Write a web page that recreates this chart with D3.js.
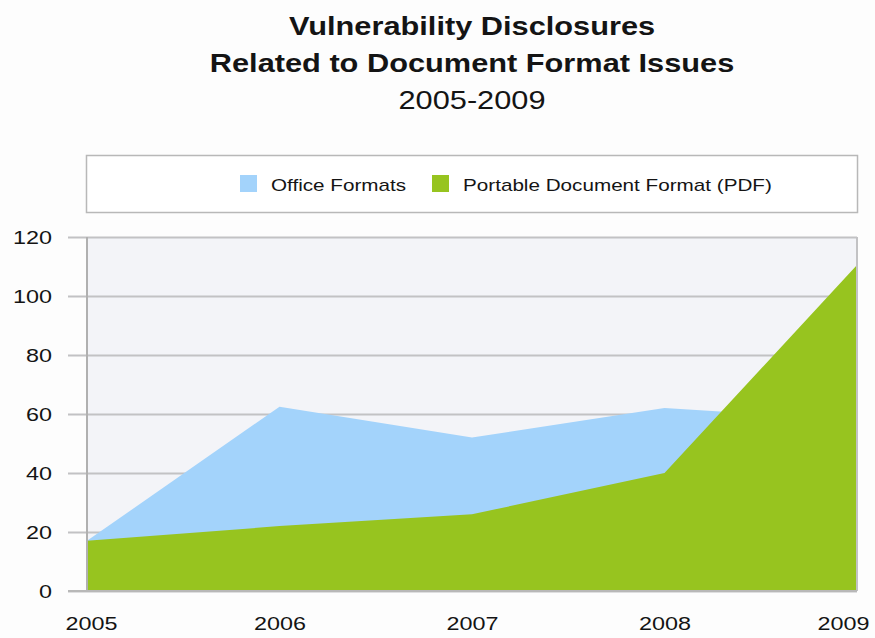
<!DOCTYPE html>
<html>
<head>
<meta charset="utf-8">
<script src="https://cdn.jsdelivr.net/npm/d3@7"></script>
<style>
  html, body { margin: 0; padding: 0; background: #fdfdfd; }
  svg { display: block; }
  text { font-family: "Liberation Sans", Arial, Helvetica, sans-serif; fill: #141414; }
</style>
</head>
<body>
<svg id="chart" width="875" height="638"></svg>
<script>
// Yearly vulnerability disclosure counts
const years = [2005, 2006, 2007, 2008, 2009];
const officeFormats = [17, 62.5, 52, 62, 58];
const pdfFormat = [17, 22, 26, 40, 110.5];
const yTicks = [0, 20, 40, 60, 80, 100, 120];
const seriesNames = ["Office Formats", "Portable Document Format (PDF)"];
const seriesColors = ["#a3d3fb", "#97c41f"];
const titleLines = ["Vulnerability Disclosures", "Related to Document Format Issues"];
const subtitle = "2005-2009";

const svg = d3.select("#chart");
const margin = { left: 87, right: 18, top: 237, bottom: 47 };
const W = 875, H = 638;
const STRETCH = 1.23; // wide lettering

// Turn x/y placement into a transform so the glyphs can be widened
function widen(sel) {
  sel.each(function () {
    const t = d3.select(this);
    const tx = +t.attr("x") || 0, ty = +t.attr("y") || 0;
    t.attr("x", null).attr("y", null)
      .attr("transform", `translate(${tx},${ty}) scale(${STRETCH},1)`);
  });
}

const x = d3.scaleLinear().domain(d3.extent(years)).range([margin.left, W - margin.right]);
const y = d3.scaleLinear().domain([0, 120]).range([H - margin.bottom, margin.top]);

// Titles
const cx = (x.range()[0] + x.range()[1]) / 2;
svg.append("text").attr("x", cx).attr("y", 35).attr("text-anchor", "middle")
  .attr("font-size", 25).attr("font-weight", "bold").text(titleLines[0]).call(widen);
svg.append("text").attr("x", cx).attr("y", 72).attr("text-anchor", "middle")
  .attr("font-size", 25).attr("font-weight", "bold").text(titleLines[1]).call(widen);
svg.append("text").attr("x", cx).attr("y", 109).attr("text-anchor", "middle")
  .attr("font-size", 25).text(subtitle).call(widen);

// Legend box
const legend = svg.append("g");
legend.append("rect").attr("x", x.range()[0] - 0.5).attr("y", 155.5)
  .attr("width", x.range()[1] - x.range()[0] + 1).attr("height", 57)
  .attr("fill", "#ffffff").attr("stroke", "#b8b8b8").attr("stroke-width", 1.5);
const legendItems = [{ sx: 240, tx: 271 }, { sx: 432, tx: 463 }];
legendItems.forEach((it, i) => {
  legend.append("rect").attr("x", it.sx).attr("y", 175).attr("width", 17).attr("height", 17)
    .attr("fill", seriesColors[i]);
  legend.append("text").attr("x", it.tx).attr("y", 191).attr("font-size", 16.8)
    .text(seriesNames[i]).call(widen);
});

// Plot background
svg.append("rect").attr("x", x.range()[0]).attr("y", y(120))
  .attr("width", x.range()[1] - x.range()[0]).attr("height", y(0) - y(120))
  .attr("fill", "#f3f4f8");

// Gridlines + y labels via axis
const plotW = x.range()[1] - x.range()[0];
const yAxis = d3.axisLeft(y).tickValues(yTicks).tickSize(-plotW - 19);
const gy = svg.append("g").attr("transform", `translate(${x.range()[1]},0)`).call(yAxis);
gy.select(".domain").remove();
gy.selectAll(".tick line").attr("stroke", "#c2c2c4").attr("stroke-width", 2)
  .attr("x1", 0).attr("x2", -plotW - 19);
gy.selectAll(".tick text").attr("font-size", 19).attr("fill", "#141414")
  .attr("x", -(x.range()[1] - 52)).attr("text-anchor", "end").call(widen);

// Areas (overlapping, not stacked)
const area = d3.area().x((d, i) => x(years[i])).y0(y(0)).y1(d => y(d));
svg.append("path").datum(officeFormats).attr("d", area).attr("fill", seriesColors[0]);
svg.append("path").datum(pdfFormat).attr("d", area).attr("fill", seriesColors[1]);

// Frame lines
svg.append("line").attr("x1", x.range()[0]).attr("x2", x.range()[0])
  .attr("y1", y(120)).attr("y2", y(0)).attr("stroke", "#b0b0b0").attr("stroke-width", 2);
svg.append("line").attr("x1", x.range()[1]).attr("x2", x.range()[1])
  .attr("y1", y(120)).attr("y2", y(0)).attr("stroke", "#c2c2c4").attr("stroke-width", 2);
svg.append("line").attr("x1", x.range()[0] - 19).attr("x2", x.range()[1])
  .attr("y1", y(0)).attr("y2", y(0)).attr("stroke", "#b8b8b8").attr("stroke-width", 2);

// X axis labels
const xAxis = d3.axisBottom(x).tickValues(years).tickFormat(d3.format("d")).tickSize(0).tickPadding(26);
const gx = svg.append("g").attr("transform", `translate(0,${y(0)})`).call(xAxis);
gx.select(".domain").remove();
gx.selectAll(".tick text").attr("font-size", 19).attr("fill", "#141414")
  .attr("x", (d, i) => i === 0 ? 4 : (i === years.length - 1 ? -14 : 0))
  .call(widen);
</script>
</body>
</html>
